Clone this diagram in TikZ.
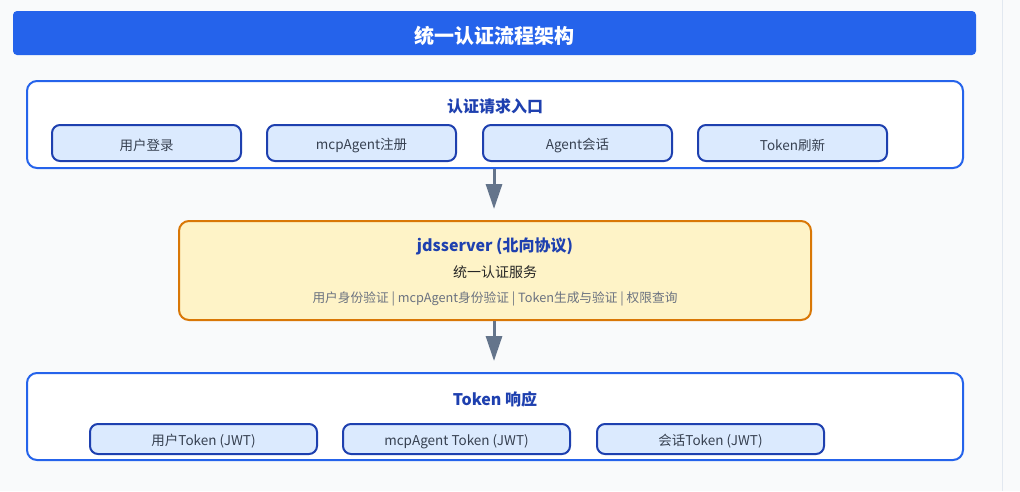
\documentclass[tikz,border=0pt]{standalone}
\usepackage{fontspec}
\setmainfont{Noto Sans CJK SC}
\usetikzlibrary{arrows.meta}
\definecolor{bg}{HTML}{F9FAFB}
\definecolor{edge}{HTML}{E2E8F0}
\definecolor{titlebg}{HTML}{2563EB}
\definecolor{secborder}{HTML}{2563EB}
\definecolor{subfill}{HTML}{DBEAFE}
\definecolor{subborder}{HTML}{1E40AF}
\definecolor{headtxt}{HTML}{1E40AF}
\definecolor{bodytxt}{HTML}{374151}
\definecolor{midfill}{HTML}{FEF3C7}
\definecolor{midborder}{HTML}{D97706}
\definecolor{graytxt}{HTML}{6B7280}
\definecolor{arrowcol}{HTML}{64748B}
\newcommand{\lowertxt}[1]{\raisebox{-2.5pt}[\height][\depth]{#1}}
\tikzset{
  titlebar/.style={fill=titlebg, rounded corners=4pt, inner sep=0pt, minimum width=963pt, minimum height=44pt, text=white, font=\fontsize{20}{23}\selectfont\bfseries},
  section/.style={draw=secborder, line width=2pt, fill=white, rounded corners=10pt, inner sep=0pt},
  subbox/.style={draw=subborder, line width=2pt, fill=subfill, rounded corners=8pt, inner sep=0pt, text=bodytxt, font=\fontsize{13.5}{15}\selectfont},
  midbox/.style={draw=midborder, line width=2pt, fill=midfill, rounded corners=10pt, inner sep=0pt, minimum width=632pt, minimum height=99pt},
  headlabel/.style={text=headtxt, font=\fontsize{16}{19}\selectfont\bfseries, inner sep=0pt},
  flowarrow/.style={draw=arrowcol, line width=3pt, -{Triangle[width=16pt,length=25pt]}, shorten >=11pt},
}
\begin{document}
\begin{tikzpicture}[x=1pt,y=-1pt]
\useasboundingbox (0,0) rectangle (1020,491);
\fill[bg] (0,0) rectangle (1020,491);
\draw[edge, line width=1pt] (1002.5,0) -- (1002.5,491);

\node[titlebar] (title) at (494.5,33) {\lowertxt{统一认证流程架构}};

% Section 1
\node[section, minimum width=936pt, minimum height=87pt] (entry) at (495,124.5) {};
\node[headlabel] (entryhead) at (495,106) {认证请求入口};
\node[subbox, minimum width=189pt, minimum height=36pt] (login) at (146.5,143) {\lowertxt{用户登录}};
\node[subbox, minimum width=189pt, minimum height=36pt] (reg) at (361.5,143) {\lowertxt{mcpAgent注册}};
\node[subbox, minimum width=189pt, minimum height=36pt] (sess) at (577.5,143) {\lowertxt{Agent会话}};
\node[subbox, minimum width=189pt, minimum height=36pt] (refresh) at (792.5,143) {\lowertxt{Token刷新}};

% Middle
\node[midbox] (server) at (495,270.5) {};
\node[headlabel] (serverhead) at (495,246) {jdsserver (北向协议)};
\node[inner sep=0pt, text=black!85, font=\fontsize{14}{16}\selectfont] (servsub) at (495,272.5) {统一认证服务};
\node[inner sep=0pt, text=graytxt, font=\fontsize{12.7}{14}\selectfont] (servfeat) at (495,299) {用户身份验证 | mcpAgent身份验证 | Token生成与验证 | 权限查询};

% Section 3
\node[section, minimum width=936pt, minimum height=87pt] (resp) at (495,416.5) {};
\node[headlabel] (resphead) at (495,399) {Token 响应};
\node[subbox, minimum width=227pt, minimum height=30pt] (ut) at (203.5,439) {\lowertxt{用户Token (JWT)}};
\node[subbox, minimum width=227pt, minimum height=30pt] (mt) at (456.5,439) {\lowertxt{mcpAgent Token (JWT)}};
\node[subbox, minimum width=227pt, minimum height=30pt] (st) at (710.5,439) {\lowertxt{会话Token (JWT)}};

% Arrows
\draw[flowarrow] (entry.south -| 494,0) -- (server.north -| 494,0);
\draw[flowarrow] (server.south -| 494,0) -- (resp.north -| 494,0);
\end{tikzpicture}
\end{document}
